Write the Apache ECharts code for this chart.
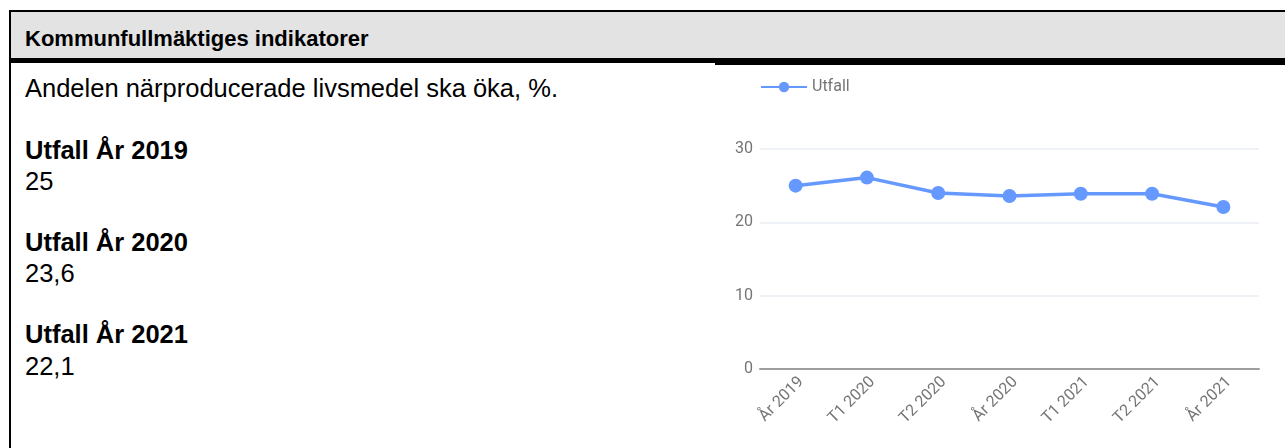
<!DOCTYPE html>
<html>
<head>
<meta charset="utf-8">
<script src="https://cdn.jsdelivr.net/npm/echarts@6/dist/echarts.min.js"></script>
<style>
    html, body { margin: 0; padding: 0; background: #fff; width: 1285px; height: 448px; overflow: hidden; }
    body { position: relative; font-family: "Liberation Sans", Arial, sans-serif; color: #000; }
    .box { position: absolute; left: 9px; top: 10px; width: 1290px; height: 450px; border-left: 2px solid #000; border-top: 2px solid #000; }
    .head { position: absolute; left: 11px; top: 12px; width: 1280px; height: 46px; background: #e3e3e3; }
    .bar { position: absolute; left: 11px; top: 58px; width: 704px; height: 5px; background: #000; }
    .bar2 { position: absolute; left: 715px; top: 58px; width: 580px; height: 7px; background: #000; }
    .t { position: absolute; left: 25px; font-size: 25.5px; line-height: 26px; white-space: nowrap; }
    .h { font-size: 22px; line-height: 22px; font-weight: bold; }
    .b { font-weight: bold; }
    #chart { position: absolute; left: 720px; top: 66px; width: 565px; height: 382px; }
</style>
</head>
<body>
<div class="box"></div>
<div class="head"></div>
<div class="bar"></div>
<div class="bar2"></div>
<div class="t h" style="top:28px">Kommunfullmäktiges indikatorer</div>
<div class="t" style="top:75px">Andelen närproducerade livsmedel ska öka, %.</div>
<div class="t b" style="top:137px">Utfall År 2019</div>
<div class="t" style="top:168px">25</div>
<div class="t b" style="top:229px">Utfall År 2020</div>
<div class="t" style="top:260px">23,6</div>
<div class="t b" style="top:321px">Utfall År 2021</div>
<div class="t" style="top:353px">22,1</div>
<div id="chart"></div>
<script>
// kategorier och värden
var categories = ['År 2019', 'T1 2020', 'T2 2020', 'År 2020', 'T1 2021', 'T2 2021', 'År 2021'];
var utfall = [25, 26.1, 24, 23.6, 23.9, 23.9, 22.1];
var yTicks = [0, 10, 20, 30];

var chart = echarts.init(document.getElementById('chart'));
var grey = '#757575';
var blue = '#6699ff';

var option = {
    animation: false,
    legend: {
        left: 35,
        top: 8,
        itemWidth: 46,
        itemHeight: 13,
        textStyle: { color: grey, fontSize: 16, fontFamily: 'Roboto' },
        data: ['Utfall']
    },
    grid: { left: 40, right: 26, top: 83, bottom: 79 },
    xAxis: {
        type: 'category',
        data: categories,
        boundaryGap: true,
        axisTick: { show: false },
        axisLine: { lineStyle: { color: '#9e9e9e', width: 2 } },
        axisLabel: { rotate: 45, margin: 5, verticalAlign: 'top', color: grey, fontSize: 16, fontFamily: 'Roboto' }
    },
    yAxis: {
        type: 'value',
        min: yTicks[0],
        max: yTicks[yTicks.length - 1],
        interval: 10,
        axisLine: { show: false },
        axisTick: { show: false },
        axisLabel: { margin: 7, color: grey, fontSize: 16, fontFamily: 'Roboto' },
        splitLine: { lineStyle: { color: '#e9edf2', width: 1.5 } }
    },
    series: [{
        name: 'Utfall',
        type: 'line',
        data: utfall,
        symbol: 'circle',
        symbolSize: 14,
        color: blue,
        lineStyle: { width: 3.5, color: blue },
        itemStyle: { color: blue }
    }]
};

chart.setOption(option);
</script>
</body>
</html>
